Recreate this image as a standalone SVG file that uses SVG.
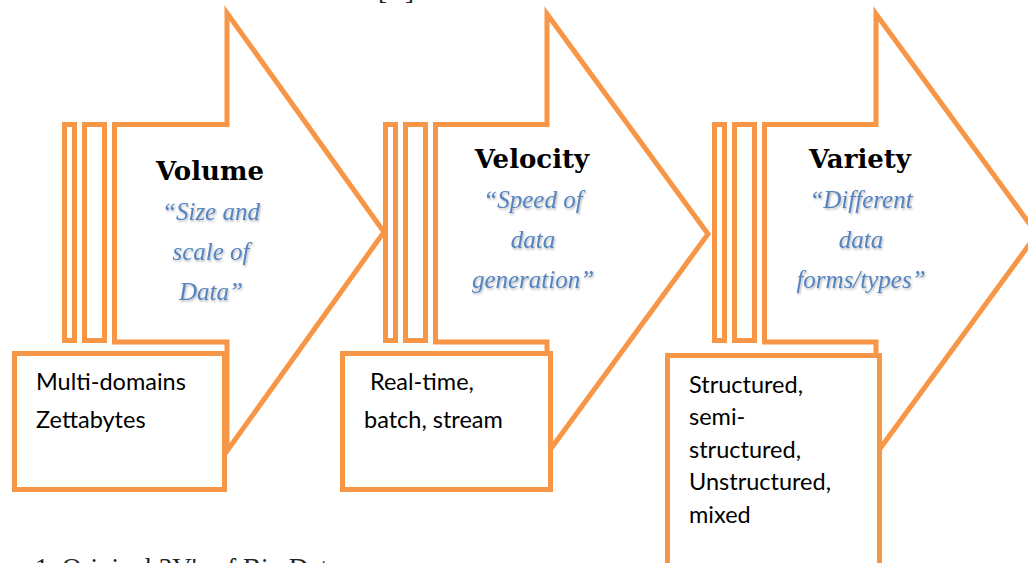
<svg xmlns="http://www.w3.org/2000/svg" width="1028" height="563" viewBox="0 0 1028 563">
<style>
.o{fill:#fff;stroke:#F79646;stroke-width:5;stroke-linejoin:miter}
.h{font-family:"DejaVu Serif",serif;font-weight:bold;font-size:26px;fill:#000;text-anchor:middle}
.q{font-family:"Liberation Serif",serif;font-style:italic;font-size:25px;fill:#5584C0;text-anchor:middle;filter:url(#sh)}
.b{font-family:"Lato","Open Sans",sans-serif;font-size:23.5px;fill:#000}
.c{font-family:"Liberation Serif",serif;font-size:27px;fill:#222}
</style>
<defs>
<filter id="sh" x="-10%" y="-20%" width="130%" height="150%">
<feDropShadow dx="1" dy="1.5" stdDeviation="1" flood-color="#000" flood-opacity="0.3"/>
</filter>
</defs>
<text class="c" x="378" y="-1" textLength="36">[1]</text>
<g id="volume">
<rect class="o" x="64.5" y="124.5" width="10" height="216"/>
<rect class="o" x="84.5" y="124.5" width="20" height="216"/>
<path class="o" d="M114.5,342 V124.5 H227 V13 L384,232 L227,451 V342 Z"/>
<text class="h" x="210" y="180">Volume</text>
<text class="q" x="211" y="220">“Size and</text>
<text class="q" x="211" y="260">scale of</text>
<text class="q" x="211" y="300">Data”</text>
<rect class="o" x="14.5" y="353.5" width="210" height="136"/>
<text class="b" x="36" y="390">Multi-domains</text>
<text class="b" x="36" y="428">Zettabytes</text>
</g>
<g id="velocity">
<rect class="o" x="385.5" y="124.5" width="10" height="216"/>
<rect class="o" x="405.5" y="124.5" width="20" height="216"/>
<path class="o" d="M435.5,342 V124.5 H547 V14 L708,234 L547,454 V342 Z"/>
<text class="h" x="532" y="168">Velocity</text>
<text class="q" x="533" y="208">“Speed of</text>
<text class="q" x="533" y="248">data</text>
<text class="q" x="533" y="288">generation”</text>
<rect class="o" x="342.5" y="353.5" width="208" height="136"/>
<text class="b" x="370" y="390">Real-time,</text>
<text class="b" x="364" y="428">batch, stream</text>
</g>
<g id="variety">
<rect class="o" x="714.5" y="124.5" width="10" height="216"/>
<rect class="o" x="734.5" y="124.5" width="20" height="216"/>
<path class="o" d="M764.5,342 V124.5 H876 V14 L1037,234 L876,454 V342 Z"/>
<text class="h" x="860" y="168">Variety</text>
<text class="q" x="861" y="208">“Different</text>
<text class="q" x="861" y="248">data</text>
<text class="q" x="861" y="288">forms/types”</text>
<rect class="o" x="667.5" y="355.5" width="212" height="220"/>
<text class="b" x="689" y="393">Structured,</text>
<text class="b" x="689" y="425">semi-</text>
<text class="b" x="689" y="458">structured,</text>
<text class="b" x="689" y="490">Unstructured,</text>
<text class="b" x="689" y="523">mixed</text>
</g>
<text class="c" x="35" y="577">1. Original 3V's of Big Data</text>
</svg>
